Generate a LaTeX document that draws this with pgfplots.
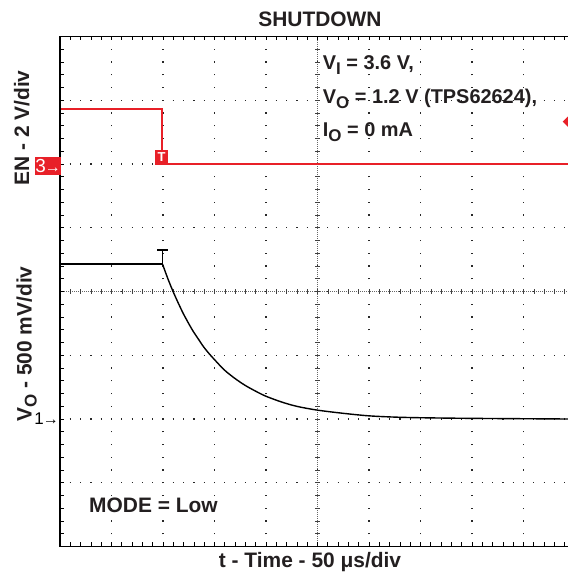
\documentclass[border=0pt]{standalone}
\usepackage{pgfplots}
\pgfplotsset{compat=1.18}
\usepackage{fontspec}
\setmainfont{Liberation Sans}
\definecolor{scred}{RGB}{232,32,40}
\definecolor{txt}{RGB}{35,31,32}
\definecolor{griddot}{RGB}{40,40,40}
\begin{document}
\begin{tikzpicture}
% ---- oscilloscope graticule (background) ----
\foreach \i in {1,...,9}
  \draw[griddot, line width=1.2bp, dash pattern=on 1.2bp off 11.55bp, dash phase=0.6bp] ({\i*51.5bp},0bp) -- ({\i*51.5bp},510bp);
\foreach \j in {1,...,7}
  \draw[griddot, line width=1.2bp, dash pattern=on 1.2bp off 9.1bp, dash phase=0.6bp] (0bp,{\j*63.75bp}) -- (508bp,{\j*63.75bp});
% centre lines
\draw[black!60, line width=0.8bp, dash pattern=on 0.8bp off 1.2bp] (257.5bp,0bp) -- (257.5bp,510bp);
\draw[black!60, line width=0.8bp, dash pattern=on 0.8bp off 1.2bp] (0bp,255bp) -- (508bp,255bp);
\foreach \i in {1,...,49}
  \draw[black!75, line width=0.6bp] ({\i*10.3bp},252.5bp) -- ++(0bp,5bp);
\foreach \j in {1,...,39}
  \draw[black!75, line width=0.6bp] (255bp,{\j*12.75bp}) -- ++(5bp,0bp);
% border ticks
\foreach \i in {1,...,49} {
  \draw[black, line width=0.8bp] ({\i*10.3bp},510bp) -- ++(0bp,-4bp);
  \draw[black, line width=0.8bp] ({\i*10.3bp},0bp) -- ++(0bp,4bp);
}
\foreach \j in {1,...,39}
  \draw[black, line width=0.8bp] (0bp,{\j*12.75bp}) -- ++(3.5bp,0bp);

\begin{axis}[
  at={(0bp,0bp)}, anchor=south west,
  scale only axis, width=508bp, height=510bp,
  xmin=0, xmax=9.864, ymin=0, ymax=8,
  hide axis, clip=true,
]
% EN (channel 3)
\addplot[scred, line width=2bp] coordinates {
  (0,6.87) (1.99,6.87) (1.99,6.0) (9.864,6.0)
};
% VO (channel 1) - flat part and spike
\addplot[black, line width=1.4bp] coordinates {
  (0,4.43) (1.99,4.43) (1.99,4.65) (1.99,4.43)
};
% VO decay
\addplot[black, line width=1.4bp, smooth, tension=0.5] coordinates {
  (1.99,4.43) (2.04,4.32) (2.09,4.21) (2.19,4.01) (2.29,3.83) (2.39,3.66)
  (2.49,3.51) (2.59,3.37) (2.69,3.25) (2.79,3.13) (2.89,3.03)
  (2.99,2.94) (3.19,2.77) (3.39,2.64) (3.59,2.53) (3.79,2.44)
  (3.99,2.36) (4.29,2.27) (4.59,2.20) (4.99,2.14) (5.49,2.09)
  (5.99,2.05) (6.49,2.03) (6.99,2.02) (7.99,2.01) (9.864,2.00)
};
\addplot[black, line width=1.2bp] coordinates {(1.89,4.65) (2.09,4.65)};
\end{axis}

% frame
\draw[black, line width=1.3bp] (508bp,510bp) -- (0bp,510bp) -- (0bp,0bp) -- (508bp,0bp);

% markers
\node[fill=scred, text=white, inner sep=0pt, minimum width=13bp, minimum height=15bp,
      font=\fontsize{13}{13}\bfseries\selectfont] at (101.5bp,389bp) {T};
\node[fill=scred, text=white, inner sep=0pt, minimum width=21bp, minimum height=18bp,
      font=\fontsize{19}{19}\selectfont] at (-12bp,380.5bp) {3\kern-1bp\fontsize{16}{16}\selectfont→};
\node[anchor=east, text=black, inner sep=0pt, font=\fontsize{17}{17}\selectfont] at (-1bp,127.5bp) {1\kern-1bp\fontsize{16}{16}\selectfont→};
\fill[scred] (502.7bp,424.8bp) -- (508bp,430bp) -- (508bp,419.6bp) -- cycle;

% texts
\node[anchor=base, text=txt, inner sep=0pt, font=\fontsize{21}{25}\bfseries\selectfont] at (260bp,519.5bp) {SHUTDOWN};
\node[anchor=base, rotate=90, text=txt, inner sep=0pt, font=\fontsize{21}{25}\bfseries\selectfont] at (-31bp,418.5bp) {EN - 2 V/div};
\node[anchor=base, rotate=90, text=txt, inner sep=0pt, font=\fontsize{21}{25}\bfseries\selectfont] at (-28.5bp,202.5bp) {V\raisebox{-5bp}{\fontsize{17}{17}\selectfont O} - 500 mV/div};
\node[anchor=base, text=txt, inner sep=0pt, font=\fontsize{21}{25}\bfseries\selectfont] at (250bp,-20.5bp) {t - Time - 50 μs/div};
\node[anchor=base west, text=txt, inner sep=0pt, font=\fontsize{21}{25}\bfseries\selectfont] at (29bp,34.5bp) {MODE = Low};
\node[anchor=base west, text=txt, inner sep=0pt, font=\fontsize{20}{24}\bfseries\selectfont] at (262.7bp,476.5bp) {V\raisebox{-5bp}{\fontsize{17}{17}\selectfont I} = 3.6 V,};
\node[anchor=base west, text=txt, inner sep=0pt, font=\fontsize{20}{24}\bfseries\selectfont] at (262.7bp,442.5bp) {V\raisebox{-5bp}{\fontsize{17}{17}\selectfont O} = 1.2 V (TPS62624),};
\node[anchor=base west, text=txt, inner sep=0pt, font=\fontsize{20}{24}\bfseries\selectfont] at (262.7bp,409.8bp) {I\raisebox{-5bp}{\fontsize{17}{17}\selectfont O} = 0 mA};

\pgfresetboundingbox
\useasboundingbox (-60bp,-26.5bp) rectangle (508bp,546.5bp);
\end{tikzpicture}
\end{document}
